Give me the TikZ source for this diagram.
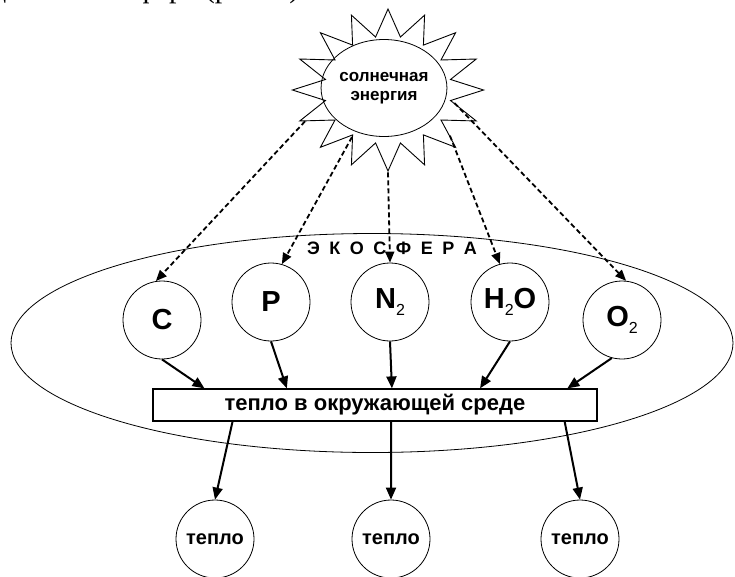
\documentclass[tikz,border=0pt]{standalone}
\usepackage{fontspec}
\setmainfont{Liberation Serif}
\setsansfont{Liberation Sans}
\usetikzlibrary{shapes.geometric,arrows.meta,calc}
\newcommand{\idx}[1]{\raisebox{-7pt}{\fontsize{16}{16}\selectfont\mdseries #1}}
\newcommand{\gap}{\hspace{9.5pt}}

\begin{document}
\begin{tikzpicture}[x=1pt,y=-1pt]
\tikzstyle{every node}+=[inner sep=0pt]
\tikzstyle{elem}=[draw, circle, minimum size=78pt, line width=0.8pt, font=\sffamily\bfseries\fontsize{29}{29}\selectfont]
\tikzstyle{heat}=[draw, circle, minimum size=78pt, line width=0.8pt, font=\sffamily\bfseries\fontsize{20}{20}\selectfont]
\tikzstyle{ray}=[line width=1.8pt, dash pattern=on 5pt off 3pt, -{Triangle[length=11pt,width=9pt]}]
\tikzstyle{flow}=[line width=2pt, -{Triangle[length=12pt,width=10pt]}]
\useasboundingbox (0,0) rectangle (735,576);
% line of text above the figure
\begin{scope}
\clip (0,0) rectangle (735,576);
\node[font=\rmfamily\fontsize{30}{30}\selectfont, anchor=base east] (line) at (307,-3) {создается экосфера (рис.~5).};
\end{scope}
% ecosphere
\node[draw, ellipse, minimum width=722pt, minimum height=219pt, line width=0.8pt] (eco) at (372,343) {};
\node[font=\sffamily\bfseries\fontsize{18}{18}\selectfont] (econame) at (392,248) {Э\gap К\gap О\gap С\gap Ф\gap Е\gap Р\gap А};
% sun
\node[draw, star, star points=16, star point ratio=1.5, minimum size=162pt, xscale=1.18, transform shape, line width=0.9pt] (sun) at (388,90) {};
\node[draw, ellipse, minimum width=108pt, minimum height=97pt, align=center, line width=0.8pt, font=\sffamily\bfseries\fontsize{17}{19}\selectfont] (core) at (384,88) {солнечная\\энергия};
% elements
\node[elem] (c) at (162,320) {C};
\node[elem] (p) at (271,302) {P};
\node[elem] (n) at (390,302) {N\idx{2}};
\node[elem] (h) at (510,302) {H\idx{2}O};
\node[elem] (o) at (622,320) {O\idx{2}};
% heat
\node[draw, minimum width=444pt, minimum height=32pt, line width=1.2pt, font=\sffamily\bfseries\fontsize{22}{22}\selectfont] (env) at (375,405) {тепло в окружающей среде};
\node[heat] (t1) at (215,539) {тепло};
\node[heat] (t2) at (391,539) {тепло};
\node[heat] (t3) at (580,539) {тепло};
% solar rays
\draw[ray] (sun.204) -- (c.99);
\draw[ray] (sun.237) -- (p.74);
\draw[ray] (sun.270) -- (n.90);
\draw[ray] (sun.319) -- (h.105);
\draw[ray] (sun.347) -- (o.84);
% flows
\draw[flow] (c.south) -- ($(env.north west)!0.117!(env.north east)$);
\draw[flow] (p.south) -- ($(env.north west)!0.302!(env.north east)$);
\draw[flow] (n.south) -- ($(env.north west)!0.538!(env.north east)$);
\draw[flow] (h.south) -- ($(env.north west)!0.736!(env.north east)$);
\draw[flow] (o.-105) -- ($(env.north west)!0.932!(env.north east)$);
\draw[flow] ($(env.south west)!0.18!(env.south east)$) -- (t1.north);
\draw[flow] ($(env.south west)!0.536!(env.south east)$) -- (t2.north);
\draw[flow] ($(env.south west)!0.926!(env.south east)$) -- (t3.north);
\end{tikzpicture}
\end{document}
